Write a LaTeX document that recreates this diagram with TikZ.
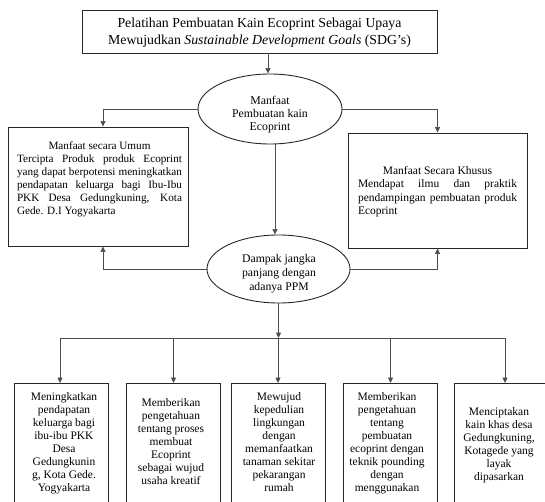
\documentclass[tikz,border=0pt]{standalone}
\usepackage{fontspec}
\setmainfont{Liberation Serif}
\usetikzlibrary{arrows.meta,shapes.geometric,calc}
\newcommand\myfs[2]{\fontsize{#1}{#2}\selectfont}
\begin{document}
\begin{tikzpicture}[x=1pt,y=-1pt,
  box/.style={draw=black!85,line width=0.9pt,inner sep=0pt,rectangle},
  oval/.style={draw=black!85,line width=0.9pt,ellipse,inner sep=0pt},
  txt/.style={inner sep=0pt,align=center},
  conn/.style={draw=black!70,line width=0.7pt},
  arr/.style={conn,-{Triangle[length=5.5pt,width=5pt]}},
  bbox/.style={box,minimum width=94pt,minimum height=125pt,anchor=north},
  btxt/.style={txt,font=\myfs{11.5}{13}}]
\useasboundingbox (0,0) rectangle (545,502);
\clip (0,0) rectangle (545,502);

% title
\node[box,minimum width=355pt,minimum height=43pt] (t) at (259.5,31.5) {};
\node[txt,font=\myfs{13.8}{17}] (tt) at (259.5,33) {Pelatihan Pembuatan Kain Ecoprint Sebagai Upaya\\Mewujudkan \textit{Sustainable Development Goals} (SDG’s)};

% ellipse 1
\node[oval,minimum width=144pt,minimum height=70pt] (e1) at (270,109) {};
\node[txt,font=\myfs{11.8}{13}] (e1t) at (270,115) {Manfaat\\Pembuatan kain\\Ecoprint};

% left box
\node[box,minimum width=180pt,minimum height=119pt] (lb) at (98,186.5) {};
\node[txt,font=\myfs{11.2}{13}] (lbt) at (99.5,179.5) {%
\makebox[165pt][c]{Manfaat secara Umum}\\
\makebox[165pt][s]{Tercipta Produk produk Ecoprint}\\
\makebox[165pt][s]{yang dapat berpotensi meningkatkan}\\
\makebox[165pt][s]{pendapatan keluarga bagi Ibu-Ibu}\\
\makebox[165pt][s]{PKK Desa Gedungkuning, Kota}\\
\makebox[165pt][l]{Gede. D.I Yogyakarta}};

% right box
\node[box,minimum width=179pt,minimum height=115pt] (rb) at (437.5,190.5) {};
\node[txt,font=\myfs{11.5}{13.5}] (rbt) at (437.5,191.5) {%
\makebox[159pt][c]{Manfaat Secara Khusus}\\
\makebox[159pt][s]{Mendapat ilmu dan praktik}\\
\makebox[159pt][s]{pendampingan pembuatan produk}\\
\makebox[159pt][l]{Ecoprint}};

% ellipse 2
\node[oval,minimum width=143pt,minimum height=68pt] (e2) at (278.5,269) {};
\node[txt,font=\myfs{11.7}{14}] (e2t) at (279,274) {Dampak jangka\\panjang dengan\\adanya PPM};

% bottom boxes
\coordinate (bus) at (0,338);
\node[bbox] (b1) at (61.5,383) {};
\node[bbox] (b2) at (173.5,383) {};
\node[bbox] (b3) at (278,383) {};
\node[bbox] (b4) at (390.5,383) {};
\node[bbox] (b5) at (501,383) {};

\node[btxt] (b1t) at (64,443) {Meningkatkan\\pendapatan\\keluarga bagi\\ibu-ibu PKK\\Desa\\Gedungkunin\\g, Kota Gede.\\Yogyakarta};
\node[btxt] (b2t) at (171,442) {Memberikan\\pengetahuan\\tentang proses\\membuat\\Ecoprint\\sebagai wujud\\usaha kreatif};
\node[btxt] (b3t) at (279,442) {Mewujud\\kepedulian\\lingkungan\\dengan\\memanfaatkan\\tanaman sekitar\\pekarangan\\rumah};
\node[btxt] (b4t) at (387,443) {Memberikan\\pengetahuan\\tentang\\pembuatan\\ecoprint dengan\\teknik pounding\\dengan\\menggunakan};
\node[btxt] (b5t) at (499,445) {Menciptakan\\kain khas desa\\Gedungkuning,\\Kotagede yang\\layak\\dipasarkan};

% connectors
\draw[arr] ([xshift=8.5pt]t.south) -- ([xshift=8.5pt]t.south |- e1.north);
\draw[arr] (e1.west) -| ([xshift=5pt]lb.north);
\draw[arr] (e1.east) -| (rb.north);
\draw[arr] ([xshift=5pt]e1.south) -- ([xshift=5pt]e1.south |- e2.north);
\draw[arr] (e2.west) -| ([xshift=5pt]lb.south);
\draw[arr] (e2.east) -| (rb.south);
\draw[arr] (e2.south) -- (e2.south |- bus);
\draw[conn] ([xshift=-1.5pt]b1.north |- bus) -- ([xshift=4pt]b5.north |- bus);
\draw[arr] ([xshift=-1.5pt]b1.north |- bus) -- ([xshift=-1.5pt]b1.north);
\draw[arr] (b2.north |- bus) -- (b2.north);
\draw[arr] (b3.north |- bus) -- (b3.north);
\draw[arr] (b4.north |- bus) -- (b4.north);
\draw[arr] ([xshift=4pt]b5.north |- bus) -- ([xshift=4pt]b5.north);
\end{tikzpicture}
\end{document}
